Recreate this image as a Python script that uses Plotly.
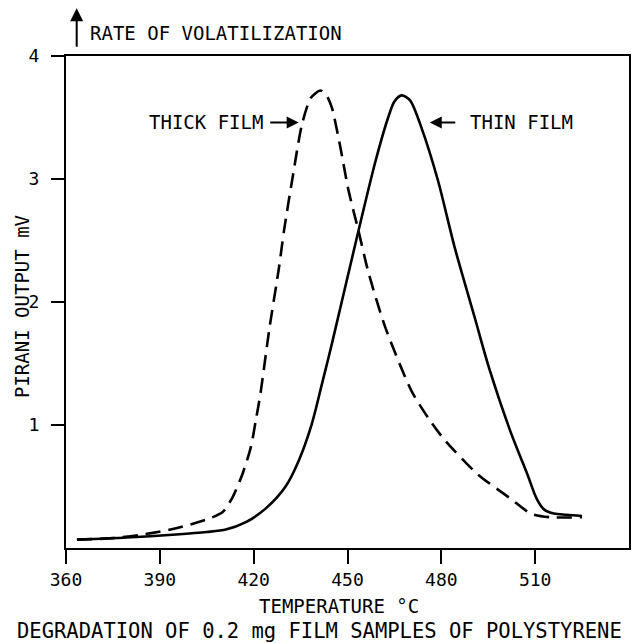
import plotly.graph_objects as go

# Thin film (solid)
thin_T = [363.5, 379.4, 395.2, 405.0, 411.1, 417.5, 423.8, 430.2, 434.4, 438.6, 441.8, 445.0,
          452.4, 458.8, 463.0, 465.0, 467.3, 470.0, 473.6, 478.9, 484.2, 490.6,
          495.3, 502.2, 507.5, 510.5, 513.0, 516.0, 520.0, 525.0]
thin_V = [0.068, 0.085, 0.11, 0.13, 0.15, 0.21, 0.32, 0.50, 0.71, 1.01, 1.33, 1.66,
          2.46, 3.13, 3.50, 3.63, 3.68, 3.64, 3.42, 2.99, 2.45, 1.88,
          1.46, 0.94, 0.60, 0.40, 0.31, 0.28, 0.27, 0.26]

# Thick film (dashed)
thick_T = [363.5, 375.0, 384.6, 395.2, 405.8, 410.0, 413.2, 416.4, 419.1, 420.7, 422.2, 425.0,
           428.1, 429.7, 432.3, 435.5, 438.3, 441.3, 443.3, 445.0, 447.7, 450.3, 453.5, 456.7,
           462.0, 470.4, 476.0, 481.0, 491.6, 502.2, 508.6, 514.9, 525.0]
thick_V = [0.068, 0.08, 0.11, 0.16, 0.24, 0.29, 0.41, 0.60, 0.82, 1.04, 1.26, 1.78,
           2.28, 2.58, 2.99, 3.45, 3.66, 3.72, 3.68, 3.58, 3.26, 2.91, 2.58, 2.24,
           1.80, 1.28, 1.05, 0.88, 0.60, 0.40, 0.28, 0.25, 0.25]

x_ticks = [360, 390, 420, 450, 480, 510]
y_ticks = [1, 2, 3, 4]

FONT = "DejaVu Sans Mono"

fig = go.Figure()
fig.add_trace(go.Scatter(x=thin_T, y=thin_V, mode="lines",
                         line=dict(color="black", width=2.6, shape="spline", smoothing=0.8),
                         showlegend=False, hoverinfo="skip"))
fig.add_trace(go.Scatter(x=thick_T, y=thick_V, mode="lines",
                         line=dict(color="black", width=2.6, dash="15px,8px", shape="spline", smoothing=0.7),
                         showlegend=False, hoverinfo="skip"))

fig.update_xaxes(range=[360, 540], tickvals=x_ticks, ticktext=[str(v) for v in x_ticks],
                 ticks="outside", ticklen=14, tickwidth=2, tickcolor="black",
                 showline=True, linewidth=2, linecolor="black", mirror=True,
                 showgrid=False, zeroline=False,
                 tickfont=dict(family=FONT, size=18, color="black"))
fig.update_yaxes(range=[0, 4], tickvals=y_ticks, ticktext=[str(v) for v in y_ticks],
                 ticks="outside", ticklen=13, tickwidth=2, tickcolor="black",
                 showline=True, linewidth=2, linecolor="black", mirror=True,
                 showgrid=False, zeroline=False, ticklabelstandoff=8,
                 tickfont=dict(family=FONT, size=18, color="black"))

ann = []
# axis titles and caption
ann.append(dict(text="TEMPERATURE °C", xref="paper", yref="paper", x=0.485, y=-0.1185,
                xanchor="center", yanchor="middle", showarrow=False,
                font=dict(family=FONT, size=19, color="black")))
ann.append(dict(text="DEGRADATION OF 0.2 mg FILM SAMPLES OF POLYSTYRENE", xref="paper", yref="paper",
                x=0.451, y=-0.169, xanchor="center", yanchor="middle", showarrow=False,
                font=dict(family=FONT, size=20.5, color="black")))
ann.append(dict(text="PIRANI OUTPUT mV", xref="paper", yref="paper", x=-0.078, y=0.49,
                xanchor="center", yanchor="middle", showarrow=False, textangle=-90,
                font=dict(family=FONT, size=19, color="black")))
ann.append(dict(text="RATE OF VOLATILIZATION", xref="paper", yref="paper", x=0.039, y=1.046,
                xanchor="left", yanchor="middle", showarrow=False,
                font=dict(family=FONT, size=19, color="black")))
# upward arrow
ann.append(dict(text="", xref="paper", yref="paper", x=0.019, y=1.097, ax=0, ay=40,
                showarrow=True, arrowhead=2, arrowsize=1.3, arrowwidth=2, arrowcolor="black"))
# THICK FILM label + arrow
ann.append(dict(text="THICK FILM", xref="x", yref="y", x=423.7, y=3.46,
                xanchor="right", yanchor="middle", showarrow=False,
                font=dict(family=FONT, size=19, color="black")))
ann.append(dict(text="", xref="x", yref="y", x=434.4, y=3.46, ax=-30, ay=0,
                showarrow=True, arrowhead=2, arrowsize=1.2, arrowwidth=2, arrowcolor="black"))
# THIN FILM label + arrow
ann.append(dict(text="THIN FILM", xref="x", yref="y", x=488.4, y=3.46,
                xanchor="left", yanchor="middle", showarrow=False,
                font=dict(family=FONT, size=19, color="black")))
ann.append(dict(text="", xref="x", yref="y", x=476.3, y=3.46, ax=27, ay=0,
                showarrow=True, arrowhead=2, arrowsize=1.2, arrowwidth=2, arrowcolor="black"))

fig.update_layout(width=634, height=643, margin=dict(l=66, r=3, t=56, b=95),
                  paper_bgcolor="white", plot_bgcolor="white",
                  font=dict(family=FONT, color="black"), annotations=ann)

fig.write_html("out.html", config={"displayModeBar": False},
               post_script="document.body.style.margin='0';document.body.style.overflow='hidden';")
